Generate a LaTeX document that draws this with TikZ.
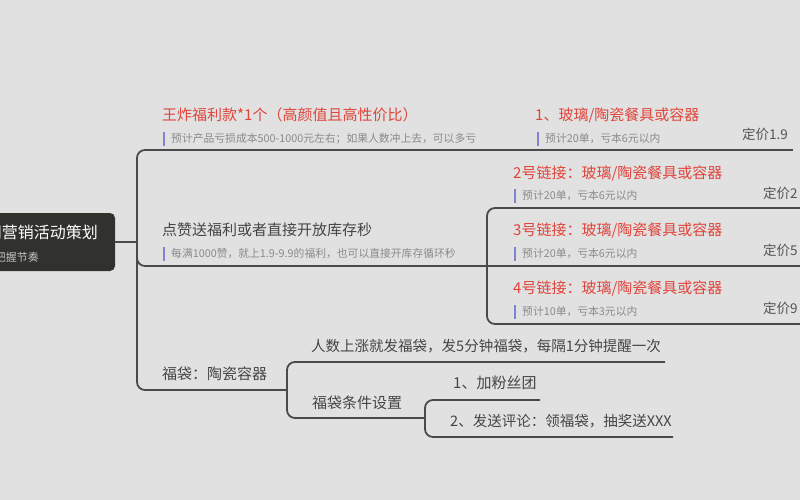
\documentclass[tikz,border=0pt]{standalone}
\usepackage{fontspec}
\setmainfont{Noto Sans CJK SC}
\definecolor{bg}{HTML}{E1E1E1}
\definecolor{linec}{HTML}{4A4A4A}
\definecolor{redt}{HTML}{E0443B}
\definecolor{darkt}{HTML}{454545}
\definecolor{pricet}{HTML}{555555}
\definecolor{subt}{HTML}{8A8A8A}
\definecolor{barc}{HTML}{8282D2}
\definecolor{rootc}{HTML}{31312D}
\tikzset{
  conn/.style={draw=linec, line width=1.8pt, rounded corners=8pt},
  lbl/.style={anchor=west, inner sep=0pt, text=darkt, font=\fontsize{15}{17}\selectfont},
  longlbl/.style={lbl, font=\fontsize{14.5}{17}\selectfont},
  redlbl/.style={lbl, text=redt},
  sublbl/.style={anchor=west, inner sep=0pt, text=subt, font=\fontsize{10.8}{12}\selectfont},
  price/.style={anchor=west, inner sep=0pt, text=pricet, font=\fontsize{13.5}{15}\selectfont},
  bar/.style={draw=barc, line width=1.6pt},
  rootbox/.style={fill=rootc, rounded corners=5pt, inner sep=0pt},
}
\newcommand{\subbar}[1]{\draw[bar] ([xshift=-7pt,yshift=7pt]#1.west) -- ([xshift=-7pt,yshift=-7pt]#1.west);}
\begin{document}
\begin{tikzpicture}[x=1pt,y=-1pt]
\fill[bg] (0,0) rectangle (800,500);
\useasboundingbox (0,0) rectangle (800,500);
\clip (0,0) rectangle (800,500);

% root
\node[rootbox, minimum width=175pt, minimum height=58pt] (root) at (27.5,242) {};
\node[anchor=east, inner sep=0pt, text=white, font=\fontsize{16}{18}\selectfont] (roott) at (98,232) {直播间营销活动策划};
\node[anchor=east, inner sep=0pt, text=white!70!rootc, font=\fontsize{11}{13}\selectfont] (roots) at (39,257) {把握节奏};

% coordinates for connector ends
\coordinate (j0) at (137,242);
\coordinate (b1end) at (520,150);
\coordinate (c1end) at (793,150);
\coordinate (b2end) at (487,266);
\coordinate (c2end) at (810,208);
\coordinate (c3end) at (810,266);
\coordinate (c4end) at (810,324);
\coordinate (b3end) at (287,390);
\coordinate (c5end) at (665,362);
\coordinate (c6end) at (425,418);
\coordinate (c7end) at (540,400);
\coordinate (c8end) at (673,437);

% connectors
\draw[conn] (root.east |- j0) -- (j0);
\draw[conn] (j0) |- (b1end);
\draw[conn] (b1end) -- (c1end);
\draw[conn] (j0) |- (b2end);
\draw[conn] (j0) |- (b3end);
\draw[conn] (b2end) |- (c2end);
\draw[conn] (b2end) -- (c3end);
\draw[conn] (b2end) |- (c4end);
\draw[conn] (b3end) |- (c5end);
\draw[conn] (b3end) |- (c6end);
\draw[conn] (c6end) |- (c7end);
\draw[conn] (c6end) |- (c8end);

% branch 1
\node[redlbl] (b1) at (162,115) {王炸福利款*1个（高颜值且高性价比）};
\node[sublbl] (b1s) at (171,139) {预计产品亏损成本500-1000元左右；如果人数冲上去，可以多亏};
\subbar{b1s}
\node[redlbl] (c1) at (535,115) {1、玻璃/陶瓷餐具或容器};
\node[sublbl] (c1s) at (545,139) {预计20单，亏本6元以内};
\subbar{c1s}
\node[price] (p1) at (742,134) {定价1.9};

% branch 2
\node[lbl] (b2) at (162,230) {点赞送福利或者直接开放库存秒};
\node[sublbl] (b2s) at (171,254) {每满1000赞，就上1.9-9.9的福利，也可以直接开库存循环秒};
\subbar{b2s}
\node[redlbl] (c2) at (513,173) {2号链接：玻璃/陶瓷餐具或容器};
\node[sublbl] (c2s) at (522,196) {预计20单，亏本6元以内};
\subbar{c2s}
\node[price] (p2) at (763,193) {定价2};
\node[redlbl] (c3) at (513,230) {3号链接：玻璃/陶瓷餐具或容器};
\node[sublbl] (c3s) at (522,254) {预计20单，亏本6元以内};
\subbar{c3s}
\node[price] (p3) at (763,250) {定价5};
\node[redlbl] (c4) at (513,288) {4号链接：玻璃/陶瓷餐具或容器};
\node[sublbl] (c4s) at (522,312) {预计10单，亏本3元以内};
\subbar{c4s}
\node[price] (p4) at (763,308) {定价9};

% branch 3
\node[lbl] (b3) at (162,374) {福袋：陶瓷容器};
\node[longlbl] (c5) at (311,346) {人数上涨就发福袋，发5分钟福袋，每隔1分钟提醒一次};
\node[lbl] (c6) at (312,403) {福袋条件设置};
\node[lbl] (c7) at (453,383) {1、加粉丝团};
\node[longlbl] (c8) at (450,421) {2、发送评论：领福袋，抽奖送XXX};
\end{tikzpicture}
\end{document}
